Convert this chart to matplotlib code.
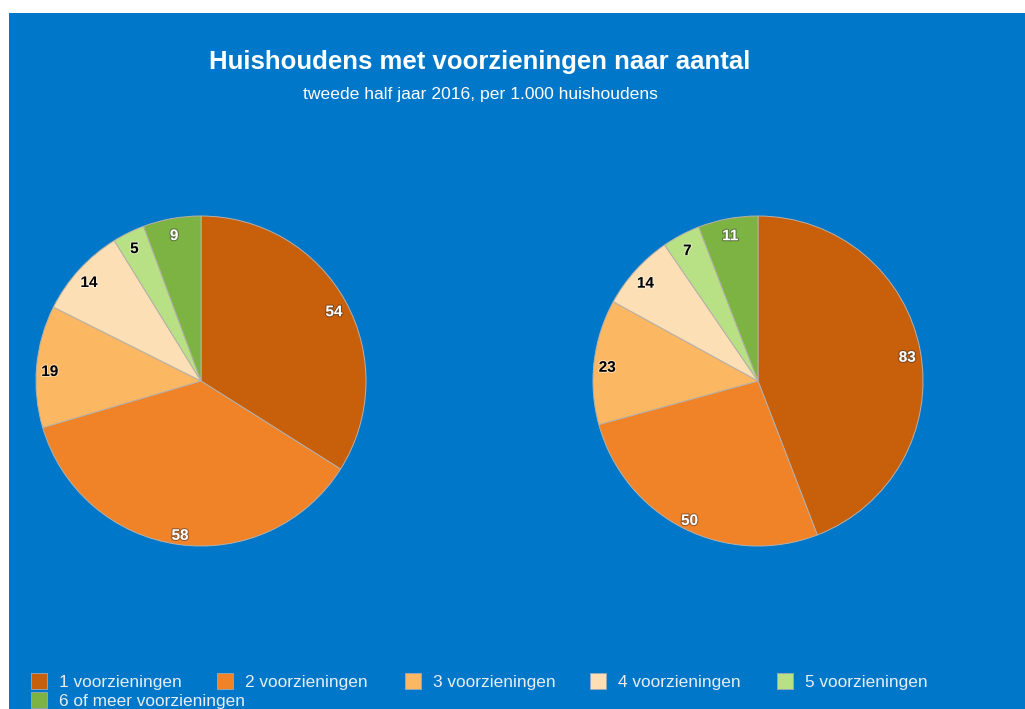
import matplotlib
matplotlib.use("Agg")
import matplotlib.pyplot as plt
import matplotlib.patheffects as pe
from matplotlib.patches import Rectangle
import numpy as np

plt.rcParams['font.family'] = ['Liberation Sans', 'DejaVu Sans']

categories = ["1 voorzieningen", "2 voorzieningen", "3 voorzieningen",
              "4 voorzieningen", "5 voorzieningen", "6 of meer voorzieningen"]
left_values = [54, 58, 19, 14, 5, 9]
right_values = [83, 50, 23, 14, 7, 11]
colors = ["#C85F0A", "#F08228", "#FBB762", "#FDDFB5", "#B8E186", "#7CB342"]
label_colors = ["white", "white", "black", "black", "black", "white"]
title = "Huishoudens met voorzieningen naar aantal"
subtitle = "tweede half jaar 2016, per 1.000 huishoudens"

W, H = 1025, 709
fig = plt.figure(figsize=(W / 100, H / 100), dpi=100)
fig.patch.set_facecolor("white")
bg = "#0077C8"
fig.add_artist(Rectangle((9 / W, 0), 1 - 9 / W, (H - 13) / H,
                         transform=fig.transFigure, facecolor=bg, edgecolor="none", zorder=0))

fig.text(480 / W, 1 - 62 / H, title, ha="center", va="center", color="white",
         fontsize=18.5, fontweight="bold")
fig.text(480 / W, 1 - 94 / H, subtitle, ha="center", va="center", color="white",
         fontsize=12.6)

def draw_pie(cx, cy, r, values):
    ax = fig.add_axes([(cx - r) / W, 1 - (cy + r) / H, 2 * r / W, 2 * r / H])
    ax.set_facecolor("none")
    wedges, _ = ax.pie(values, colors=colors, startangle=90, counterclock=False,
                       radius=1.0, wedgeprops=dict(edgecolor="#b8b0a8", linewidth=0.7))
    total = sum(values)
    ang = 90.0
    for v, lc in zip(values, label_colors):
        span = 360.0 * v / total
        mid = np.deg2rad(ang - span / 2)
        ang -= span
        x, y = 0.92 * np.cos(mid), 0.92 * np.sin(mid) - 0.027
        halo = "#333333" if lc == "white" else "white"
        t = ax.text(x, y, str(v), ha="center", va="center", color=lc,
                    fontsize=11, fontweight="bold")
        t.set_path_effects([pe.withStroke(linewidth=1.5, foreground=halo, alpha=0.5)])
    ax.set_xlim(-1, 1)
    ax.set_ylim(-1, 1)
    ax.set_aspect("equal")
    ax.axis("off")

draw_pie(201, 381, 165, left_values)
draw_pie(758, 381, 165, right_values)

# legend
positions = [(31, 681), (217, 681), (405, 681), (590, 681), (777, 681), (31, 700)]
for (x, y), lab, c in zip(positions, categories, colors):
    fig.add_artist(Rectangle((x / W, 1 - (y + 8) / H), 16 / W, 16 / H,
                             transform=fig.transFigure, facecolor=c,
                             edgecolor="#9aaab8", linewidth=0.6, zorder=2))
    fig.text((x + 28) / W, 1 - (y + 1.5) / H, lab, ha="left", va="center",
             color="#e6eef6", fontsize=12.4)

fig.savefig("out.png", dpi=100, facecolor=fig.get_facecolor())
